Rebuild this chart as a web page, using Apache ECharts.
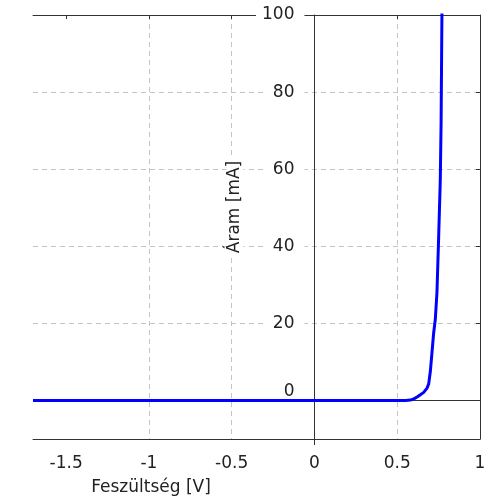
<!DOCTYPE html>
<html>
<head>
<meta charset="utf-8">
<script src="https://cdn.jsdelivr.net/npm/echarts@6/dist/echarts.min.js"></script>
<style>
  html, body { margin: 0; padding: 0; background: #fff; }
  #chart { width: 498px; height: 502px; }
</style>
</head>
<body>
<div id="chart"></div>
<script>
// diode I-V curve
const voltage = [-1.7, 0.55, 0.58, 0.6, 0.62, 0.64, 0.66, 0.68, 0.69, 0.7, 0.71, 0.72, 0.73, 0.74, 0.75, 0.76, 0.765, 0.77, 0.775];
const current = [0, 0, 0.1, 0.4, 0.9, 1.5, 2.1, 3.2, 4.3, 7.5, 12.5, 17.5, 21, 28, 42, 57, 72, 100, 135];
const xTicks = [-1.5, -1, -0.5, 0, 0.5, 1];
const yTicks = [0, 20, 40, 60, 80, 100];
const xName = 'Feszültség [V]';
const yName = 'Áram [mA]';

const font = 'DejaVu Sans';
const fs = 17;
const txt = '#222';
const frame = '#333';
const grid = '#c4c4c4';

const gridLeft = 33, gridRight = 18;
const plotW = 498 - gridLeft - gridRight;
const xMin = -1.7, xMax = 1;
// shift the labelled y axis from the left edge onto x = 0
const yAxisShift = plotW * (0 - xMin) / (xMax - xMin);

const el = document.getElementById('chart');
const chart = echarts.init(el);

const option = {
  animation: false,
  grid: { left: gridLeft, right: gridRight, top: 15, bottom: 63, outerBoundsMode: 'none', containLabel: false },
  xAxis: [
    {
      // bottom frame + tick labels
      type: 'value', min: xMin, max: xMax, position: 'bottom',
      axisLine: { show: true, onZero: false, lineStyle: { color: frame } },
      axisTick: { show: true, customValues: [0], length: 6, lineStyle: { color: frame } },
      axisLabel: {
        customValues: xTicks, margin: 16, color: txt, fontFamily: font, fontSize: fs,
        formatter: v => String(v)
      },
      splitLine: { show: false }
    },
    {
      // top frame, inner ticks, vertical grid
      type: 'value', min: xMin, max: xMax, position: 'top',
      axisLine: { show: true, onZero: false, lineStyle: { color: frame } },
      axisTick: { show: true, inside: true, length: 4, customValues: xTicks, lineStyle: { color: frame } },
      axisLabel: { show: false },
      splitLine: { show: true, showMinLine: false, showMaxLine: false, lineStyle: { color: grid, type: [5, 4] } }
    }
  ],
  yAxis: [
    {
      // axis through x = 0 with labels
      type: 'value', min: -10, max: 100, position: 'left', z: 3,
      offset: -yAxisShift,
      axisLine: { show: true, onZero: false, lineStyle: { color: frame } },
      axisTick: { show: false },
      axisLabel: {
        customValues: yTicks, margin: 10,
        formatter: v => v === 0 ? '{z|0}' : '{n|' + v + '}',
        rich: {
          n: { backgroundColor: '#fff', padding: [1, 10, 1, 6], color: txt, fontFamily: font, fontSize: fs },
          z: { padding: [0, 10, 18, 6], color: txt, fontFamily: font, fontSize: fs }
        }
      },
      splitLine: { show: false }
    },
    {
      // right frame, inner ticks, horizontal grid
      type: 'value', min: -10, max: 100, position: 'right',
      axisLine: { show: true, onZero: false, lineStyle: { color: frame } },
      axisTick: { show: true, inside: true, length: 4, customValues: yTicks, lineStyle: { color: frame } },
      axisLabel: { show: false },
      splitLine: { show: true, showMinLine: false, showMaxLine: false, lineStyle: { color: grid, type: [5, 4] } }
    }
  ],
  graphic: [
    {
      type: 'text', x: 151, y: 488, z: 10,
      style: { text: xName, fill: txt, font: fs + 'px "DejaVu Sans"', textAlign: 'center', textVerticalAlign: 'middle' }
    },
    {
      type: 'text', x: 235, y: 207, rotation: Math.PI / 2, z: 10,
      style: {
        text: yName, fill: txt, font: fs + 'px "DejaVu Sans"', textAlign: 'center', textVerticalAlign: 'middle',
        backgroundColor: '#fff', padding: [0, 2]
      }
    }
  ],
  series: [
    {
      // y = 0 line, under the curve
      type: 'line', data: [], z: 1, silent: true,
      markLine: {
        z: 1, symbol: 'none', silent: true, label: { show: false },
        lineStyle: { color: frame, width: 1, type: 'solid' },
        data: [{ yAxis: 0 }]
      }
    },
    {
      type: 'line', z: 4,
      data: voltage.map((v, i) => [v, current[i]]),
      showSymbol: false, symbol: 'none',
      lineStyle: { color: '#0000ff', width: 3 },
      clip: true
    }
  ]
};

chart.setOption(option);
window.onresize = () => chart.resize();
</script>
</body>
</html>
